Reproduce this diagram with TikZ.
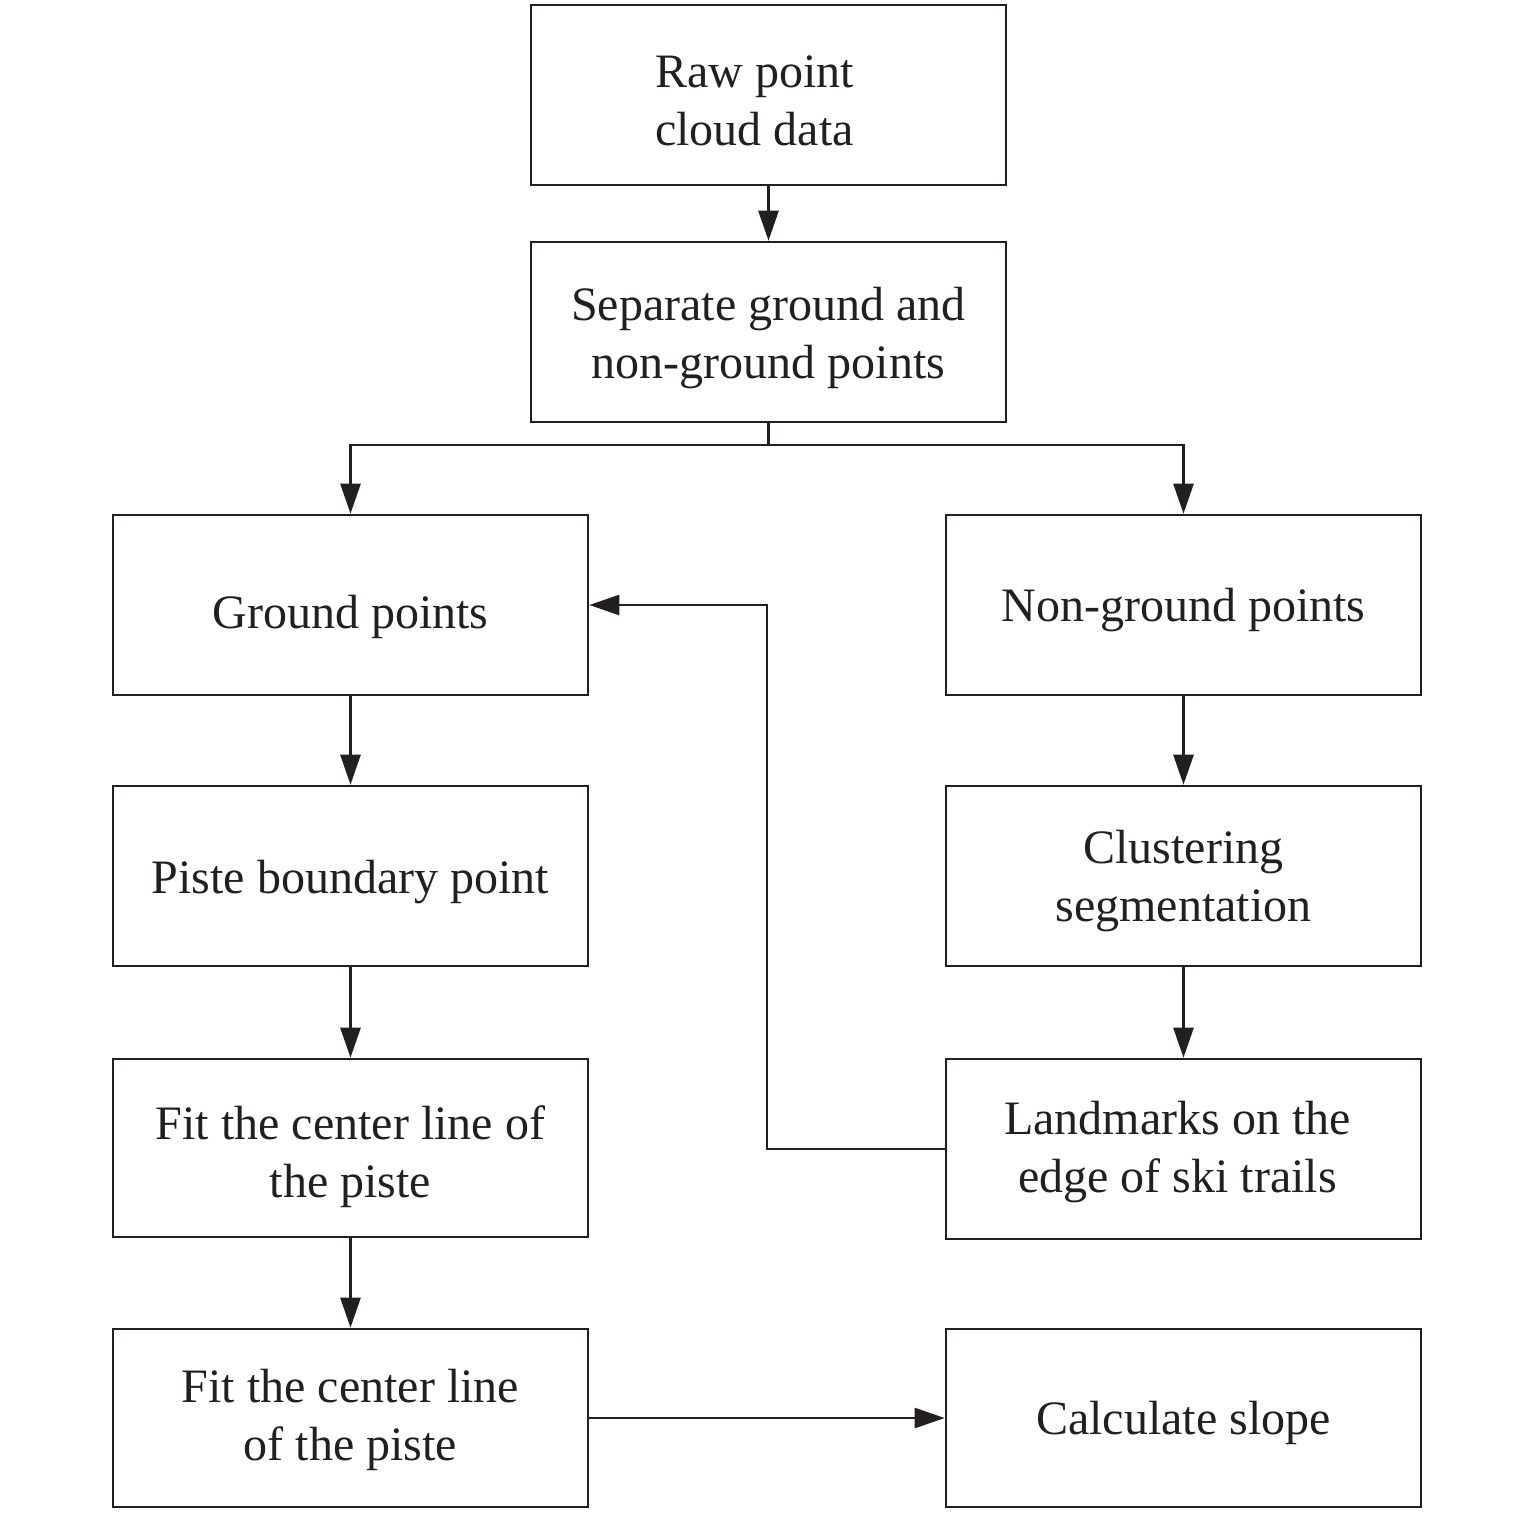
\documentclass[tikz,border=0pt]{standalone}
\usepackage{fontspec}
\setmainfont{Liberation Serif}
\usetikzlibrary{arrows.meta}
\definecolor{ink}{HTML}{231F20}
% #1 = shift left, #2 = shift down, #3 = text
\newcommand{\lowtxt}[3]{\raisebox{0pt}[\dimexpr\height+2\dimexpr#2\relax\relax][\depth]{\begin{tabular}{@{}c@{}}#3\end{tabular}}\hspace*{\dimexpr 2\dimexpr#1\relax\relax}}
\begin{document}
\begin{tikzpicture}[x=1pt,y=-1pt,
  box/.style={draw=ink,line width=2.6pt,minimum width=475pt,minimum height=180pt,inner sep=0pt,align=center,text=ink,font=\fontsize{48}{58.5}\selectfont},
  line/.style={draw=ink,line width=2.6pt},
  conn/.style={line,-{Triangle[length=30pt,width=20pt]}}]
\useasboundingbox (0,0) rectangle (1535,1513);
\node[box] (raw) at (768.5,95) {\lowtxt{14pt}{10pt}{Raw point\\cloud data}};
\node[box] (sep) at (768.5,332) {\lowtxt{0pt}{6pt}{Separate ground and\\non-ground points}};
\node[box] (gnd) at (350.5,605) {\lowtxt{0pt}{12pt}{Ground points}};
\node[box] (ngd) at (1183.5,605) {\lowtxt{0pt}{5pt}{Non-ground points}};
\node[box] (pbp) at (350.5,876) {\lowtxt{0pt}{6pt}{Piste boundary point}};
\node[box] (clu) at (1183.5,876) {\lowtxt{0pt}{5pt}{Clustering\\segmentation}};
\node[box,minimum height=178pt] (fit1) at (350.5,1148) {\lowtxt{0pt}{9pt}{Fit the center line of\\the piste}};
\node[box] (lmk) at (1183.5,1149) {\lowtxt{6pt}{3pt}{Landmarks on the\\edge of ski trails}};
\node[box,minimum height=178pt] (fit2) at (350.5,1418) {\lowtxt{0pt}{2pt}{Fit the center line\\of the piste}};
\node[box,minimum height=178pt] (cal) at (1183.5,1418) {\lowtxt{0pt}{5pt}{Calculate slope}};
\coordinate (split) at (768.5,445);
\coordinate (back) at (767,1149);
\draw[conn] (raw) -- (sep);
\draw[line] (sep.south) -- (split);
\draw[conn] (split) -| (gnd.north);
\draw[conn] (split) -| (ngd.north);
\draw[conn] (gnd) -- (pbp);
\draw[conn] (pbp) -- (fit1);
\draw[conn] (fit1) -- (fit2);
\draw[conn] (ngd) -- (clu);
\draw[conn] (clu) -- (lmk);
\draw[conn] (lmk.west) -- (back) |- (gnd.east);
\draw[conn] (fit2) -- (cal);
\end{tikzpicture}
\end{document}
